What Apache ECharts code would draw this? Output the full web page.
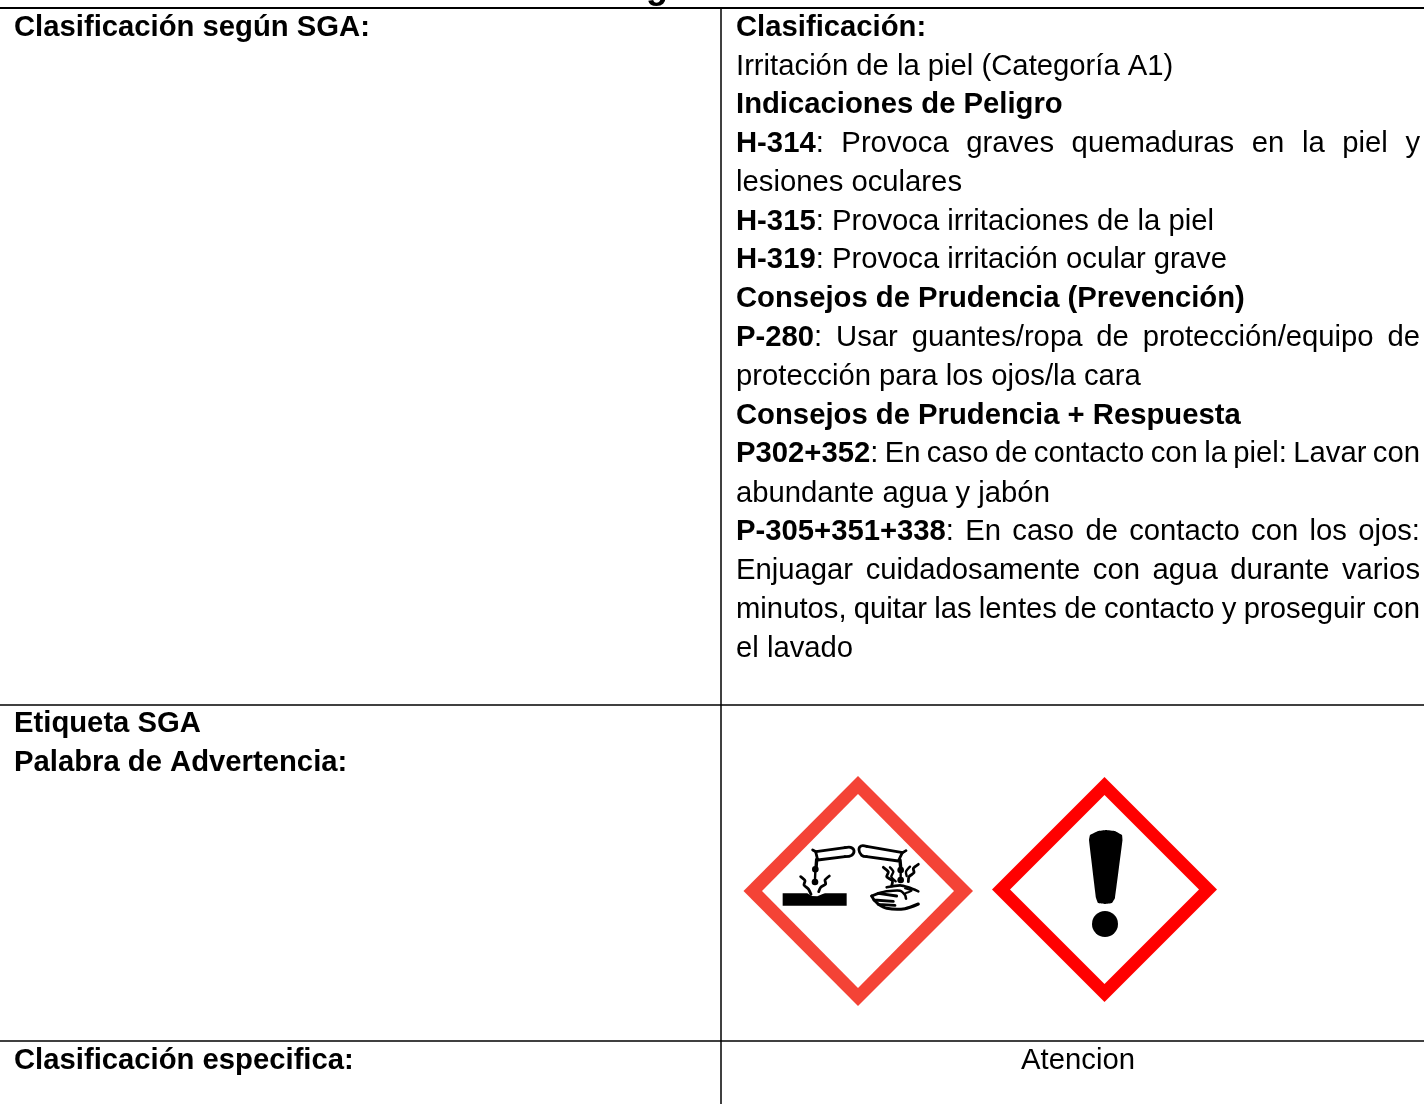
<!DOCTYPE html>
<html><head><meta charset="utf-8">
<style>html,body{margin:0;padding:0;background:#fff}#c{width:1424px;height:1104px}</style>
<script src="https://cdn.jsdelivr.net/npm/echarts@6/dist/echarts.min.js"></script>
</head><body><div id="c"></div>
<script>
const FONT = '"Liberation Sans", Arial, sans-serif';
const SIZE = 29.25;
const rightLines = [
 {y:28, runs:[['Clasificación:',1]]},
 {y:67, runs:[['Irritación de la piel (Categoría A1)',0]]},
 {y:105,runs:[['Indicaciones de Peligro',1]]},
 {y:144,j:1,runs:[['H-314',1],[': Provoca graves quemaduras en la piel y',0]]},
 {y:183,runs:[['lesiones oculares',0]]},
 {y:222,runs:[['H-315',1],[': Provoca irritaciones de la piel',0]]},
 {y:260,runs:[['H-319',1],[': Provoca irritación ocular grave',0]]},
 {y:299,runs:[['Consejos de Prudencia (Prevención)',1]]},
 {y:338,j:1,runs:[['P-280',1],[': Usar guantes/ropa de protección/equipo de',0]]},
 {y:377,runs:[['protección para los ojos/la cara',0]]},
 {y:416,runs:[['Consejos de Prudencia + Respuesta',1]]},
 {y:454,j:1,runs:[['P302+352',1],[': En caso de contacto con la piel: Lavar con',0]]},
 {y:494,runs:[['abundante agua y jabón',0]]},
 {y:532,j:1,runs:[['P-305+351+338',1],[': En caso de contacto con los ojos:',0]]},
 {y:571,j:1,runs:[['Enjuagar cuidadosamente con agua durante varios',0]]},
 {y:610,j:1,runs:[['minutos, quitar las lentes de contacto y proseguir con',0]]},
 {y:649,runs:[['el lavado',0]]}
];
const leftLines = [
 {y:28, runs:[['Clasificación según SGA:',1]]},
 {y:724,runs:[['Etiqueta SGA',1]]},
 {y:763,runs:[['Palabra de Advertencia:',1]]},
 {y:1061,runs:[['Clasificación especifica:',1]]}
];
const RIGHT_X=736, RIGHT_END=1420, LEFT_X=14;
const hLines=[[0,1424,8,2],[0,1424,705,1.5],[0,1424,1041,1.5]];

const ctx=document.createElement('canvas').getContext('2d');
const fontOf=b=>(b?'bold ':'')+SIZE+'px '+FONT;
const measure=(t,b)=>{ctx.font=fontOf(b);return ctx.measureText(t).width;};
const els=[];
const txt=(x,y,t,b,align)=>els.push({type:'text',x,y,style:{text:t,fill:'#000',font:fontOf(b),textAlign:align||'left',textVerticalAlign:'middle'}});
function layout(line,x0,end){
  const words=[[]];
  line.runs.forEach(([t,b])=>{
    t.split(' ').forEach((w,i)=>{ if(i>0)words.push([]); if(w)words[words.length-1].push([w,b]); });
  });
  const widths=words.map(w=>w.reduce((s,[t,b])=>s+measure(t,b),0));
  const total=widths.reduce((a,b)=>a+b,0);
  const gap=line.j?(end-x0-total)/(words.length-1):measure(' ',0);
  let x=x0;
  words.forEach((w,i)=>{
    let px=x; w.forEach(([t,b])=>{txt(px,line.y,t,b);px+=measure(t,b);});
    x+=widths[i]+gap;
  });
}
rightLines.forEach(l=>layout(l,RIGHT_X,RIGHT_END));
leftLines.forEach(l=>layout(l,LEFT_X,700));
txt(1078,1061,'Atencion',0,'center');
els.push({type:'text',x:657,y:-12,style:{text:'g',fill:'#000',font:'bold 36px '+FONT,textAlign:'center',textVerticalAlign:'middle'}});

hLines.forEach(([a,b,y,w])=>els.push({type:'line',shape:{x1:a,y1:y,x2:b,y2:y},style:{stroke:'#000',lineWidth:w}}));
els.push({type:'line',shape:{x1:721,y1:8,x2:721,y2:1104},style:{stroke:'#000',lineWidth:1.5}});

const m1=p=>p.map(([x,y])=>[730+x/3,760+y/3]);
const ring=(outer,inner,color)=>{
  els.push({type:'polygon',shape:{points:outer},style:{fill:color}});
  els.push({type:'polygon',shape:{points:inner},style:{fill:'#fff'}});
};
ring([[858,776],[973,891],[858,1006],[743.5,891]],[[858,794],[954,891],[858,988],[762,891]],'#f44336');
ring([[1104.5,777],[1217,889.5],[1104.5,1002],[992,889.5]],[[1104.5,795],[1199,889.5],[1104.5,984],[1010,889.5]],'#ff0000');

const poly=(pts,w,s)=>els.push({type:'polyline',shape:{points:m1(pts),smooth:s===undefined?0.25:s},style:{stroke:'#000',fill:null,lineWidth:w||2,lineCap:'round',lineJoin:'round'}});
const dot=(x,y,r)=>{const [[a,b]]=m1([[x,y]]);els.push({type:'circle',shape:{cx:a,cy:b,r:r/3},style:{fill:'#000'}});};
els.push({type:'polygon',shape:{points:m1([[158,400],[232,400],[245,408],[262,409],[278,402],[285,400],[350,400],[350,437],[158,437]])},style:{fill:'#000'}});
// left tube
poly([[248,270],[258,275],[345,263]],2.8,0);
poly([[345,263],[362,262],[372,272],[365,286],[345,290]],2.8,0.4);
poly([[345,290],[263,300],[257,275]],2.8,0);
poly([[260,298],[258,325]],3.4,0);
dot(256,328,10);dot(255,366,10);
poly([[256,335],[255,358]],2.4,0);
poly([[212,350],[225,362],[222,375],[236,388],[243,403]],2.8);
poly([[298,348],[285,360],[287,372],[272,382],[266,395]],2.8);
// right tube
poly([[528,272],[518,278],[410,259]],2.8,0);
poly([[410,259],[393,258],[387,270],[395,286],[410,290]],2.8,0.4);
poly([[410,290],[505,303],[517,278]],2.8,0);
poly([[510,300],[512,322]],3.4,0);
dot(512,330,10);dot(512,360,10);
poly([[512,336],[512,352]],2.4,0);
poly([[460,322],[475,336],[470,350],[487,362],[485,378]],2.8);
poly([[480,322],[490,335],[484,350],[497,364]],2.4);
poly([[565,313],[550,325],[552,338],[537,350],[535,365]],2.8);
poly([[540,320],[528,335],[530,348]],2.4);
// hand
poly([[470,382],[510,376],[535,382],[565,394]],2.6);
poly([[445,400],[470,394],[510,392],[525,405],[528,416]],2.6);
poly([[425,408],[445,400],[500,408]],2.8,0);
poly([[425,408],[432,420],[490,424]],2.8,0);
poly([[432,420],[445,433],[495,436]],2.8,0);
poly([[445,433],[470,445],[525,446],[565,432]],3);
poly([[525,385],[545,392],[525,400]],2);

els.push({type:'polygon',shape:{smooth:0.05,points:[[1089,840],[1090,835],[1098,831],[1106,830],[1115,831],[1122,835],[1122.5,840],[1115,898],[1112,903],[1105,904],[1098,903],[1096,898]]},style:{fill:'#000'}});
els.push({type:'circle',shape:{cx:1105,cy:924,r:13},style:{fill:'#000'}});

const chart=echarts.init(document.getElementById('c'),null,{renderer:'canvas'});
chart.setOption({animation:false,backgroundColor:'#fff',graphic:{elements:els}});
</script></body></html>
